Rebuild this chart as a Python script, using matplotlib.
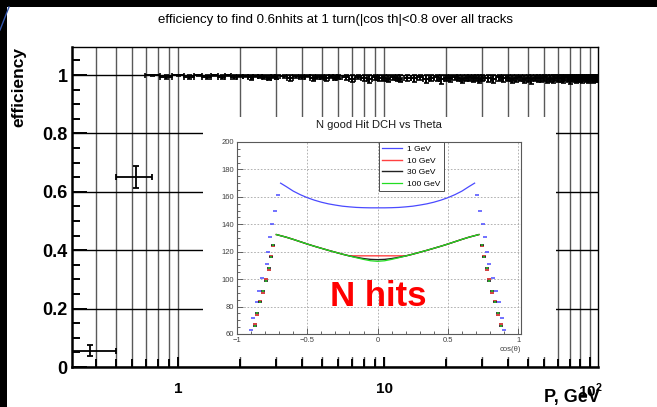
import numpy as np
import matplotlib
matplotlib.use("Agg")
import matplotlib.pyplot as plt
from matplotlib.patches import Rectangle
from matplotlib.lines import Line2D
from matplotlib.ticker import LogLocator, MultipleLocator, NullFormatter

plt.rcParams['font.family'] = ['Liberation Sans', 'DejaVu Sans']
plt.rcParams['mathtext.fontset'] = 'custom'
plt.rcParams['mathtext.rm'] = 'Liberation Sans'
plt.rcParams['mathtext.bf'] = 'Liberation Sans:bold'

# ---- main plot: efficiency vs momentum ----
# first two wide bins (low, high edge, efficiency, error)
low_p = [0.375, 0.625]
low_p_lo = [0.25, 0.5]
low_p_hi = [0.5, 0.75]
low_eff = [0.056, 0.651]
low_err = [0.019, 0.038]

# momentum binning of the plateau region: (first centre, last centre, bin width)
bin_segments = [(0.75, 3.0, 0.125), (3.25, 6.0, 0.25), (6.5, 12.0, 0.5),
                (13.0, 30.0, 1.0), (32.0, 108.0, 2.0)]

eff_plateau = [
    # 0.75 - 3.0
    1.0, 0.993, 1.0, 0.994, 1.0, 0.993, 1.0, 0.994, 1.0, 0.993,
    0.998, 0.997, 0.992, 0.997, 0.996, 0.994, 0.991, 0.995, 0.993,
    # 3.25 - 6.0
    0.996, 0.990, 0.995, 0.992, 0.997, 0.989, 0.994, 0.993, 0.990, 0.996, 0.991, 0.993,
    # 6.5 - 12
    0.992, 0.988, 0.994, 0.990, 0.986, 0.993, 0.989, 0.991, 0.987, 0.992, 0.990, 0.988,
    # 13 - 30
    0.991, 0.989, 0.993, 0.988, 0.990, 0.992, 0.986, 0.991, 0.989,
    0.993, 0.990, 0.987, 0.991, 0.992, 0.989, 0.990, 0.988, 0.991,
    # 32 - 108
    0.990, 0.988, 0.992, 0.989, 0.991, 0.987, 0.990, 0.992, 0.988, 0.990,
    0.986, 0.991, 0.989, 0.990, 0.992, 0.988, 0.990, 0.987, 0.991, 0.989,
    0.990, 0.988, 0.992, 0.989, 0.986, 0.990, 0.991, 0.988, 0.990, 0.989,
    0.987, 0.991, 0.990, 0.988, 0.989, 0.991, 0.988, 0.990, 0.989,
]
err_plateau = [
    0.004, 0.007, 0.004, 0.007, 0.004, 0.007, 0.004, 0.007, 0.004, 0.007,
    0.004, 0.004, 0.008, 0.004, 0.005, 0.006, 0.009, 0.005, 0.007,
    0.005, 0.009, 0.005, 0.007, 0.004, 0.010, 0.006, 0.007, 0.009, 0.005, 0.008, 0.007,
    0.009, 0.011, 0.008, 0.010, 0.013, 0.009, 0.011, 0.010, 0.012, 0.009, 0.010, 0.011,
    0.012, 0.013, 0.011, 0.014, 0.012, 0.011, 0.016, 0.012, 0.013,
    0.011, 0.012, 0.015, 0.012, 0.011, 0.013, 0.012, 0.014, 0.012,
    0.014, 0.015, 0.013, 0.014, 0.013, 0.016, 0.014, 0.012, 0.015, 0.014,
    0.017, 0.013, 0.014, 0.014, 0.012, 0.015, 0.014, 0.016, 0.013, 0.014,
    0.014, 0.015, 0.012, 0.014, 0.017, 0.014, 0.013, 0.015, 0.014, 0.014,
    0.016, 0.013, 0.014, 0.015, 0.014, 0.013, 0.015, 0.014, 0.014,
]

# ---- inset: N good hits in DCH vs cos(theta) ----
blue_cos = [-0.69, -0.65, -0.6, -0.55, -0.5, -0.45, -0.4, -0.35, -0.3, -0.25, -0.2, -0.15, -0.1, -0.05,
            0.0, 0.05, 0.1, 0.15, 0.2, 0.25, 0.3, 0.35, 0.4, 0.45, 0.5, 0.55, 0.6, 0.65, 0.69]
n_1gev = [170, 167.5, 164.2, 161.6, 159.4, 157.6, 156.1, 154.9, 154.0, 153.2, 152.7, 152.3, 152.1, 152.0,
          152.0, 152.0, 152.1, 152.3, 152.7, 153.2, 154.0, 154.9, 156.1, 157.6, 159.4, 161.6, 164.2, 167.5, 170]

hp_cos = [-0.72, -0.65, -0.6, -0.55, -0.5, -0.45, -0.4, -0.35, -0.3, -0.25, -0.2, -0.15, -0.1, -0.05,
          0.0, 0.05, 0.1, 0.15, 0.2, 0.25, 0.3, 0.35, 0.4, 0.45, 0.5, 0.55, 0.6, 0.65, 0.72]
n_10gev = [132.5, 130.6, 129.0, 127.3, 125.6, 124.0, 122.5, 121.0, 119.6, 118.2, 117.0, 117.0, 117.0, 117.0,
           117.0, 117.0, 117.0, 117.0, 117.0, 118.2, 119.6, 121.0, 122.5, 124.0, 125.6, 127.3, 129.0, 130.6, 132.5]
n_30gev = [132.5, 130.6, 129.0, 127.3, 125.6, 124.0, 122.5, 121.0, 119.6, 118.2, 116.9, 115.9, 115.0, 114.4,
           114.2, 114.4, 115.0, 115.9, 116.9, 118.2, 119.6, 121.0, 122.5, 124.0, 125.6, 127.3, 129.0, 130.6, 132.5]
n_100gev = [132.5, 130.6, 129.0, 127.3, 125.6, 124.0, 122.5, 121.0, 119.6, 118.2, 116.9, 115.6, 114.4, 113.4,
            113.0, 113.4, 114.4, 115.6, 116.9, 118.2, 119.6, 121.0, 122.5, 124.0, 125.6, 127.3, 129.0, 130.6, 132.5]

# edge fall-off bins (|cos| > 0.7)
blue_fall_cos = [-0.71, -0.73, -0.75, -0.765, -0.78, -0.79, -0.82, -0.84, -0.86, -0.885, -0.9,
                 0.71, 0.73, 0.75, 0.765, 0.78, 0.79, 0.82, 0.84, 0.86, 0.885, 0.9]
n_fall_1gev = [161, 150, 140, 131, 120, 111, 101, 91, 83, 72, 63,
               161, 150, 140, 131, 120, 111, 101, 91, 83, 72, 63]
hp_fall_cos = [-0.745, -0.76, -0.775, -0.795, -0.815, -0.835, -0.855, -0.875,
               0.745, 0.76, 0.775, 0.795, 0.815, 0.835, 0.855, 0.875]
n_fall_10gev = [124, 117, 107, 100, 90, 84, 74, 67, 124, 117, 107, 100, 90, 84, 74, 67]
n_fall_30gev = [125, 116, 108, 99, 91, 83, 75, 66, 125, 116, 108, 99, 91, 83, 75, 66]
n_fall_100gev = [125, 116, 108, 99, 91, 83, 75, 66, 125, 116, 108, 99, 91, 83, 75, 66]

# ---------------------------------------------------------------
fig = plt.figure(figsize=(6.57, 4.07), dpi=100)

ax = fig.add_axes([72/657, 40/407, 526/657, 320/407])
ax.set_xscale('log')
ax.set_xlim(0.305, 109.5)
ax.set_ylim(0, 1.096)

# plateau bins
p_centres, p_half = [], []
for start, stop, width in bin_segments:
    c = np.arange(start, stop + width / 2, width)
    p_centres.extend(c)
    p_half.extend([width / 2] * len(c))
p_centres = np.array(p_centres)
p_half = np.array(p_half)
eff = np.array(eff_plateau)
err = np.array(err_plateau)
err_hi = np.minimum(err, 1 - eff)

ax.errorbar(p_centres, eff, xerr=p_half, yerr=[err, err_hi], fmt='none',
            ecolor='black', elinewidth=1.4, capsize=1.8, capthick=1.2, zorder=3)
low_p = np.array(low_p)
ax.errorbar(low_p, low_eff,
            xerr=[low_p - np.array(low_p_lo), np.array(low_p_hi) - low_p],
            yerr=low_err, fmt='none', ecolor='black', elinewidth=1.3,
            capsize=2.2, capthick=1.3, zorder=3)

ax.xaxis.set_major_locator(LogLocator(base=10))
ax.xaxis.set_minor_locator(LogLocator(base=10, subs=np.arange(2, 10)))
ax.xaxis.set_minor_formatter(NullFormatter())
ax.set_xticks([1, 10, 100])
ax.set_xticklabels(['1', '10', r'$\mathbf{10^{2}}$'], fontsize=11, fontweight='bold')
ax.set_yticks([0, 0.2, 0.4, 0.6, 0.8, 1.0])
ax.set_yticklabels(['0', '0.2', '0.4', '0.6', '0.8', '1'], fontsize=13, fontweight='bold')
ax.yaxis.set_minor_locator(MultipleLocator(0.05))

ax.grid(True, which='both', axis='x', color='0.35', lw=1.0)
ax.grid(True, which='major', axis='y', color='black', lw=1.0)
ax.set_axisbelow(True)

ax.tick_params(axis='both', which='both', direction='in', top=False, right=False, width=1.4)
ax.tick_params(axis='y', which='major', length=11, pad=3)
ax.tick_params(axis='y', which='minor', length=6)
ax.tick_params(axis='x', which='major', length=7, pad=10.5)
ax.tick_params(axis='x', which='minor', length=5.5)
for s in ['left', 'bottom']:
    ax.spines[s].set_linewidth(1.8)
for s in ['top', 'right']:
    ax.spines[s].set_linewidth(1.0)

fig.text(336/657, 1 - 20/407, 'efficiency to find 0.6nhits at 1 turn(|cos th|<0.8 over all tracks',
         ha='center', va='center', fontsize=9.5)
fig.text(19/657, 1 - 47/407, 'efficiency', rotation=90, ha='center', va='top',
         fontsize=12.5, fontweight='bold')
fig.text(600/657, 1 - 406/407, 'P, GeV', ha='right', va='bottom', fontsize=13, fontweight='bold')

# frame strips from the screenshot
fig.add_artist(Rectangle((0, 1 - 7/407), 1, 7/407, transform=fig.transFigure,
                         facecolor='black', edgecolor='none', zorder=5))
fig.add_artist(Rectangle((0, 0), 7/657, 1, transform=fig.transFigure,
                         facecolor='black', edgecolor='none', zorder=5))
fig.add_artist(Line2D([0, 9/657], [1 - 30/407, 1 - 7/407], transform=fig.transFigure,
                      color='#3355aa', lw=1.0, zorder=6))

# pasted inset picture
fig.add_artist(Rectangle((203/657, 50/407), 353/657, 240/407, transform=fig.transFigure,
                         facecolor='white', edgecolor='none', zorder=1))

ins = fig.add_axes([237/657, 73/407, 284/657, 192/407], zorder=2)
ins.set_xlim(-1.0, 1.02)
ins.set_ylim(60, 200)
ins.plot(blue_cos, n_1gev, color='#4a4aff', lw=0.9, label='1 GeV')
ins.plot(hp_cos, n_10gev, color='#ff4040', lw=1.0, label='10 GeV')
ins.plot(hp_cos, n_30gev, color='#222222', lw=1.0, label='30 GeV')
ins.plot(hp_cos, n_100gev, color='#22dd22', lw=0.9, label='100 GeV')
ins.plot(blue_fall_cos, n_fall_1gev, ls='none', marker='_', ms=3.5, mew=1.1, color='#4a4aff')
ins.plot(hp_fall_cos, n_fall_10gev, ls='none', marker='_', ms=3.5, mew=1.2, color='#cc2020')
ins.plot(hp_fall_cos, n_fall_30gev, ls='none', marker='_', ms=2.5, mew=1.2, color='#222222')
ins.plot(hp_fall_cos, n_fall_100gev, ls='none', marker='_', ms=1.8, mew=1.2, color='#22bb22')

ins.set_xticks([-1, -0.5, 0, 0.5, 1])
ins.set_xticklabels(['\u22121', '\u22120.5', '0', '0.5', '1'])
ins.set_yticks([60, 80, 100, 120, 140, 160, 180, 200])
ins.xaxis.set_minor_locator(MultipleLocator(0.1))
ins.yaxis.set_minor_locator(MultipleLocator(5))
ins.grid(True, which='major', color='0.65', ls=(0, (2, 2)), lw=0.6)
ins.tick_params(axis='both', which='both', direction='in', top=False, right=False,
                labelsize=5.5, labelcolor='0.25', color='0.3', width=0.6)
ins.tick_params(which='major', length=4, pad=2)
ins.tick_params(which='minor', length=2)
for s in ins.spines.values():
    s.set_color('0.35')
    s.set_linewidth(0.8)
ins.set_title('N good Hit DCH vs Theta', fontsize=8, pad=10, color='0.1')
ins.text(1.0, -0.065, 'cos(\u03b8)', transform=ins.transAxes, ha='right', va='top',
         fontsize=5.5, color='0.25')
leg = ins.legend(loc='upper left', bbox_to_anchor=(0.5, 1.0), borderaxespad=0,
                 fancybox=False, edgecolor='0.3', framealpha=1, fontsize=6,
                 handlelength=2.4, labelspacing=0.45, borderpad=0.4, handletextpad=0.6)
leg.get_frame().set_linewidth(0.7)

fig.text(378/657, 1 - 296/407, 'N hits', ha='center', va='center', color='#ff0000',
         fontsize=25, fontweight='bold', zorder=3)

fig.savefig('out.png', dpi=100)
